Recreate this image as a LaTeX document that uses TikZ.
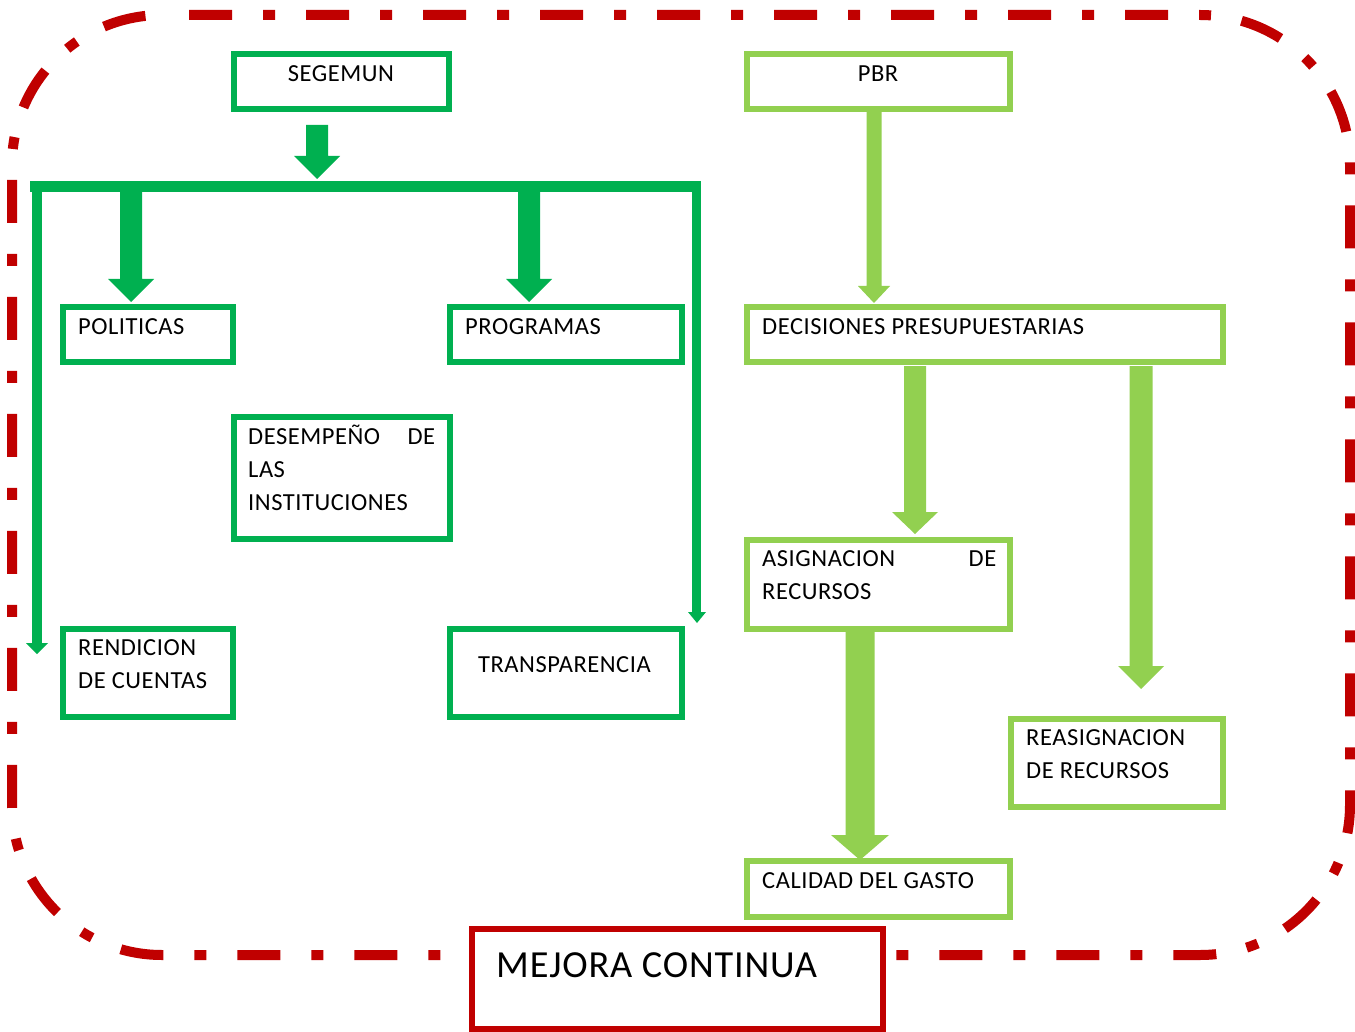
\documentclass[tikz,border=0pt]{standalone}
\usepackage{fontspec}
\setmainfont{Carlito}[LetterSpace=2.2]
\usetikzlibrary{calc}
\definecolor{dkgreen}{HTML}{00B050}
\definecolor{ltgreen}{HTML}{92D050}
\definecolor{redc}{HTML}{C00000}
\newcommand\blkarrow[6]{%
  \path #2 coordinate (ba-t) #3 coordinate (ba-h);
  \fill[#1] let \p1=(ba-t), \p2=(ba-h) in
    (\x1-#4,\y1) -- (\x1+#4,\y1) -- (\x1+#4,\y2+#6) -- (\x1+#5,\y2+#6) -- (\x2,\y2)
    -- (\x1-#5,\y2+#6) -- (\x1-#4,\y2+#6) -- cycle;
}
\begin{document}
\begin{tikzpicture}[x=1pt,y=-1pt,
  gbox/.style={draw=dkgreen, line width=5.5pt, inner sep=0pt, outer sep=0pt},
  lbox/.style={draw=ltgreen, line width=5.5pt, inner sep=0pt, outer sep=0pt},
  txt/.style={inner sep=0pt, anchor=base west, font=\fontsize{24.5}{33}\selectfont, align=left},
  ]
\useasboundingbox (0,0) rectangle (1355,1032);
\fill[white] (0,0) rectangle (1355,1032);
% dashed frame
\draw[redc, line width=10pt, dash pattern=on 43pt off 31pt on 12pt off 31pt, rounded corners=150pt]
  (189,15) -- (1350,15) -- (1350,955) -- (12,955) -- (12,15) -- (166,15);
% boxes
\node[gbox, minimum width=215, minimum height=55] (seg) at (341.5,81.5) {};
\node[lbox, minimum width=263, minimum height=55] (pbr) at (878.5,81.5) {};
\node[gbox, minimum width=170, minimum height=55] (pol) at (148,334.5) {};
\node[gbox, minimum width=232, minimum height=55] (prog) at (566,334.5) {};
\node[lbox, minimum width=476, minimum height=55] (dec) at (985,334.5) {};
\node[gbox, minimum width=216, minimum height=122] (des) at (342,478) {};
\node[gbox, minimum width=170, minimum height=88] (ren) at (148,673) {};
\node[gbox, minimum width=232, minimum height=88] (tra) at (566,673) {};
\node[lbox, minimum width=263, minimum height=89] (asig) at (878.5,584.5) {};
\node[lbox, minimum width=212, minimum height=88] (reas) at (1117,763) {};
\node[lbox, minimum width=263, minimum height=56] (cal) at (878.5,889) {};
\node[draw=redc, fill=white, line width=6pt, inner sep=0pt, minimum width=411, minimum height=100] (mej) at (677.5,979) {};
% texts
\node[txt, anchor=base] (tseg) at (341,82) {SEGEMUN};
\node[txt, anchor=base] (tpbr) at (878,82) {PBR};
\node[txt] (tpol) at (78,335) {POLITICAS};
\node[txt] (tprog) at (465,335) {PROGRAMAS};
\node[txt] (tdec) at (762,335) {DECISIONES PRESUPUESTARIAS};
\node[txt, text width=187] (tdes) at (248,444) {DESEMPEÑO\hfill DE\\LAS\\INSTITUCIONES};
\node[txt] (tren) at (78,688) {RENDICION\\DE CUENTAS};
\node[txt] (ttra) at (478,672) {TRANSPARENCIA};
\node[txt, text width=234] (tasig) at (762,566) {ASIGNACION\hfill DE\\RECURSOS};
\node[txt] (treas) at (1026,778) {REASIGNACION\\DE RECURSOS};
\node[txt] (tcal) at (762,888) {CALIDAD DEL GASTO};
\node[txt, font=\fontsize{38.3}{45}\selectfont] (tmej) at (496,977) {MEJORA CONTINUA};
% dark green distribution connector
\coordinate (barL) at (30,181);
\coordinate (barR) at (701,192);
\fill[dkgreen] (barL) rectangle (barR);
\fill[dkgreen] (32,181) rectangle (42,643);
\fill[dkgreen] (26,643) -- (48,643) -- (37,654) -- cycle;
\fill[dkgreen] (692,181) rectangle (701,612);
\fill[dkgreen] (688,612) -- (706,612) -- (697,623) -- cycle;
% block arrows
\blkarrow{dkgreen}{(317,125)}{(317,179)}{11}{23}{23}
\blkarrow{dkgreen}{(131,192)}{($(pol.north)+(-17,-5)$)}{11}{23}{23}
\blkarrow{dkgreen}{(529,192)}{($(prog.north)+(-37,-5)$)}{11}{23}{23}
\blkarrow{ltgreen}{($(pbr.south)+(-4.5,3)$)}{($(dec.north)+(-111,-4)$)}{7.5}{16}{17}
\blkarrow{ltgreen}{($(dec.south)+(-70,4)$)}{($(asig.north)+(36.5,-6)$)}{11}{23}{22}
\blkarrow{ltgreen}{($(dec.south)+(156,4)$)}{($(reas.north)+(24,-30)$)}{11.5}{23}{23}
\blkarrow{ltgreen}{($(asig.south)+(-18.5,3)$)}{($(cal.north)+(-18.5,-1)$)}{14.5}{29}{25}
\end{tikzpicture}
\end{document}
